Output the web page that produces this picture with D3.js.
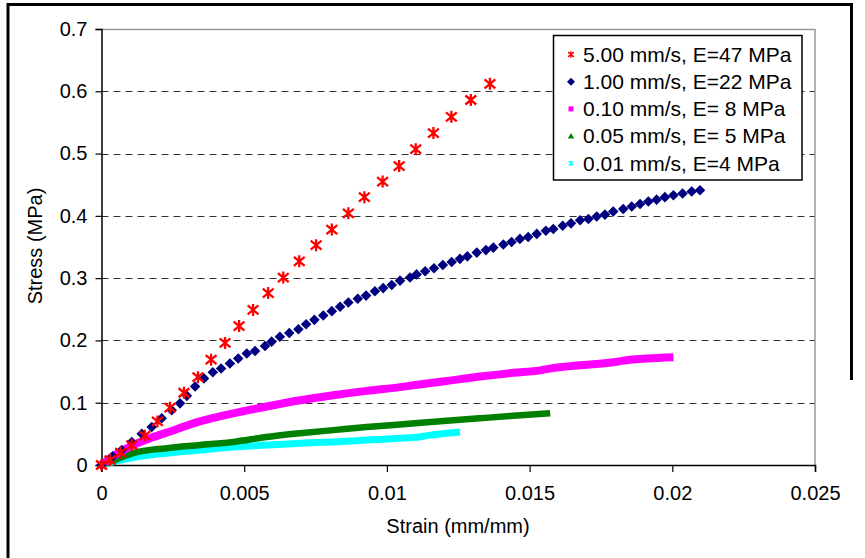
<!DOCTYPE html>
<html><head><meta charset="utf-8">
<script src="https://cdn.jsdelivr.net/npm/d3@7"></script>
<style>
html,body{margin:0;padding:0;background:#fff;}
svg{display:block;font-family:"Liberation Sans",Arial,sans-serif;}
</style></head>
<body><svg id="c" width="865" height="558"></svg>
<script>
// ---- data (strain mm/mm, stress MPa) ----
const seriesNames = ["5.00 mm/s, E=47 MPa","1.00 mm/s, E=22 MPa","0.10 mm/s, E= 8 MPa","0.05 mm/s, E= 5 MPa","0.01 mm/s, E=4 MPa"];
const seriesColors = ["#ff0000","#000080","#ff00ff","#008000","#00ffff"];

const red_strain = [0,0.0003,0.00067,0.00106,0.00152,0.00196,0.0024,0.00289,0.00338,0.00384,0.00433,0.00482,0.00531,0.00584,0.00637,0.00693,0.00752,0.00807,0.00865,0.00921,0.00985,0.01043,0.01101,0.01163,0.01226,0.01294,0.01361];
const red_stress = [0,0.008,0.020,0.032,0.047,0.070,0.092,0.116,0.141,0.169,0.196,0.223,0.249,0.276,0.301,0.327,0.353,0.378,0.404,0.430,0.455,0.480,0.507,0.533,0.559,0.586,0.612];

const blue_strain = [0,0.00039,0.00071,0.00106,0.00141,0.00176,0.00211,0.00246,0.00275,0.00299,0.00328,0.00359,0.00390,0.00419,0.00450,0.00479,0.00509,0.00538,0.00573,0.00596,0.00625,0.00658,0.00690,0.00717,0.00746,0.00777,0.00807,0.00836,0.00865,0.00898,0.00927,0.00958,0.00987,0.01017,0.01046,0.01081,0.01104,0.01134,0.01165,0.01196,0.01227,0.01256,0.01282,0.01315,0.01347,0.01373,0.01408,0.01437,0.01466,0.01495,0.01525,0.01557,0.01583,0.01616,0.01645,0.01677,0.01706,0.01735,0.01764,0.01793,0.01828,0.01858,0.01887,0.01916,0.01945,0.01974,0.02004,0.02036,0.02068,0.02097];
const blue_stress = [0,0.014,0.024,0.037,0.050,0.061,0.075,0.088,0.099,0.111,0.126,0.139,0.149,0.155,0.163,0.171,0.179,0.183,0.191,0.198,0.206,0.212,0.218,0.226,0.233,0.240,0.247,0.254,0.261,0.267,0.272,0.279,0.284,0.289,0.296,0.301,0.306,0.311,0.316,0.321,0.326,0.331,0.335,0.341,0.345,0.349,0.354,0.358,0.363,0.366,0.371,0.376,0.379,0.384,0.388,0.393,0.395,0.399,0.402,0.407,0.411,0.415,0.419,0.423,0.426,0.430,0.433,0.436,0.439,0.441];

const mag_strain = [0,0.0003,0.00065,0.00111,0.0017,0.00228,0.00345,0.00462,0.00579,0.00696,0.00812,0.00929,0.01046,0.01093,0.0121,0.01326,0.01443,0.01536,0.0156,0.01677,0.01735,0.01793,0.01852,0.0191,0.02004];
const mag_stress = [0,0.011,0.021,0.032,0.043,0.052,0.070,0.083,0.094,0.104,0.112,0.119,0.125,0.128,0.135,0.142,0.148,0.152,0.154,0.160,0.162,0.165,0.169,0.171,0.173];

const grn_strain = [0,0.00047,0.00111,0.00228,0.00345,0.00462,0.00579,0.00696,0.00812,0.00929,0.01046,0.0121,0.01326,0.01443,0.01572];
const grn_stress = [0,0.008,0.019,0.027,0.032,0.037,0.045,0.051,0.056,0.061,0.065,0.071,0.075,0.079,0.083];

const cyn_strain = [0,0.00047,0.00111,0.00228,0.00345,0.00462,0.00579,0.00696,0.00812,0.00929,0.01046,0.01093,0.01152,0.0121,0.01256];
const cyn_stress = [0,0.006,0.012,0.019,0.024,0.029,0.032,0.035,0.037,0.040,0.043,0.044,0.048,0.051,0.053];

const xTicks = [0,0.005,0.01,0.015,0.02,0.025];
const xTickLabels = ["0","0.005","0.01","0.015","0.02","0.025"];
const yTicks = [0,0.1,0.2,0.3,0.4,0.5,0.6,0.7];
const yTickLabels = ["0","0.1","0.2","0.3","0.4","0.5","0.6","0.7"];
const xTitle = "Strain (mm/mm)";
const yTitle = "Stress (MPa)";

// ---- layout ----
const svg = d3.select("#c");
const L = 101.5, R = 815, T = 29, B = 465;
const x = d3.scaleLinear().domain([0,0.025]).range([L,R]);
const y = d3.scaleLinear().domain([0,0.7]).range([B,T]);
const FONT = "Liberation Sans, Arial, sans-serif";

// outer frame
svg.append("rect").attr("x",0).attr("y",0).attr("width",865).attr("height",558).attr("fill","#fff");
svg.append("path").attr("d","M8,560 L8,4.5 L851.5,4.5 L851.5,380").attr("fill","none").attr("stroke","#000").attr("stroke-width",3);

// gridlines
svg.append("g").selectAll("line").data(yTicks.filter(v=>v>0 && v<0.7)).join("line")
  .attr("x1",L).attr("x2",R).attr("y1",d=>Math.round(y(d))+0.5).attr("y2",d=>Math.round(y(d))+0.5)
  .attr("stroke","#333").attr("stroke-width",1.2).attr("stroke-dasharray","7,5");

// plot border (top & right)
svg.append("path").attr("d",`M${L},${T+0.5} L${R},${T+0.5} L${R},${B}`).attr("fill","none").attr("stroke","#999").attr("stroke-width",1.5);

// axes
const xAxis = d3.axisBottom(x).tickValues(xTicks).tickFormat((d,i)=>xTickLabels[i]).tickSize(7).tickPadding(14);
const gx = svg.append("g").attr("transform",`translate(0,${B})`).call(xAxis);
gx.select(".domain").attr("stroke","#000").attr("stroke-width",1.5);
gx.selectAll(".tick line").attr("stroke","#000").attr("stroke-width",1.2);
gx.selectAll("text").attr("font-size",20).attr("fill","#000").attr("font-family",FONT);

const yAxis = d3.axisLeft(y).tickValues(yTicks).tickFormat((d,i)=>yTickLabels[i]).tickSize(6).tickPadding(8);
const gy = svg.append("g").attr("transform",`translate(${L},0)`).call(yAxis);
gy.select(".domain").attr("stroke","#000").attr("stroke-width",1.5);
gy.selectAll(".tick line").attr("stroke","#000").attr("stroke-width",1.2);
gy.selectAll("text").attr("font-size",20).attr("fill","#000").attr("font-family",FONT);

// titles
svg.append("text").attr("x",458).attr("y",533).attr("text-anchor","middle").attr("font-size",20).text(xTitle);
svg.append("text").attr("transform","translate(42,246) rotate(-90)").attr("text-anchor","middle").attr("font-size",20).text(yTitle);

// series
const zip = (a,b)=>a.map((v,i)=>[v,b[i]]);
const line = d3.line().x(d=>x(d[0])).y(d=>y(d[1])).curve(d3.curveMonotoneX);
const plot = svg.append("g");

// cyan, green, magenta as dense thick traces
plot.append("path").datum(zip(cyn_strain,cyn_stress)).attr("d",line).attr("fill","none").attr("stroke",seriesColors[4]).attr("stroke-width",7).attr("stroke-linejoin","round");
plot.append("path").datum(zip(grn_strain,grn_stress)).attr("d",line).attr("fill","none").attr("stroke",seriesColors[3]).attr("stroke-width",6.5).attr("stroke-linejoin","round");
plot.append("path").datum(zip(mag_strain,mag_stress)).attr("d",line).attr("fill","none").attr("stroke",seriesColors[2]).attr("stroke-width",8).attr("stroke-linejoin","round");

// blue diamonds
const diamond = r=>`M0,${-r} L${r},0 L0,${r} L${-r},0 Z`;
plot.append("g").selectAll("path").data(zip(blue_strain,blue_stress)).join("path")
  .attr("transform",d=>`translate(${x(d[0])},${y(d[1])})`).attr("d",diamond(5.3)).attr("fill",seriesColors[1]);

// red asterisks
const star = r=>`M0,${-r} L0,${r} M${-r*0.9},${-r*0.75} L${r*0.9},${r*0.75} M${-r*0.9},${r*0.75} L${r*0.9},${-r*0.75}`;
plot.append("g").selectAll("path").data(zip(red_strain,red_stress)).join("path")
  .attr("transform",d=>`translate(${x(d[0])},${y(d[1])})`).attr("d",star(6)).attr("fill","none").attr("stroke",seriesColors[0]).attr("stroke-width",2.3);

// legend
const lg = svg.append("g");
lg.append("rect").attr("x",553.5).attr("y",35.5).attr("width",248.5).attr("height",144.5).attr("fill","#fff").attr("stroke","#000").attr("stroke-width",1.5);
const rowY = i=>54.5+i*27.2;
seriesNames.forEach((nm,i)=>{
  const g = lg.append("g").attr("transform",`translate(571,${rowY(i)})`);
  if(i===0) g.append("path").attr("d",star(3.2)).attr("fill","none").attr("stroke",seriesColors[0]).attr("stroke-width",1.5);
  else if(i===1) g.append("path").attr("d",diamond(4)).attr("fill",seriesColors[1]);
  else if(i===2) g.append("rect").attr("x",-2.5).attr("y",-2.5).attr("width",5).attr("height",5).attr("fill",seriesColors[2]);
  else if(i===3) g.append("path").attr("d","M0,-3 L3.2,2.5 L-3.2,2.5 Z").attr("fill",seriesColors[3]);
  else g.append("path").attr("d",star(2.5)).attr("fill","none").attr("stroke",seriesColors[4]).attr("stroke-width",1.3);
  lg.append("text").attr("x",583).attr("y",rowY(i)).attr("dy","0.35em").attr("font-size",21).attr("font-family",FONT).text(nm);
});
</script></body></html>
